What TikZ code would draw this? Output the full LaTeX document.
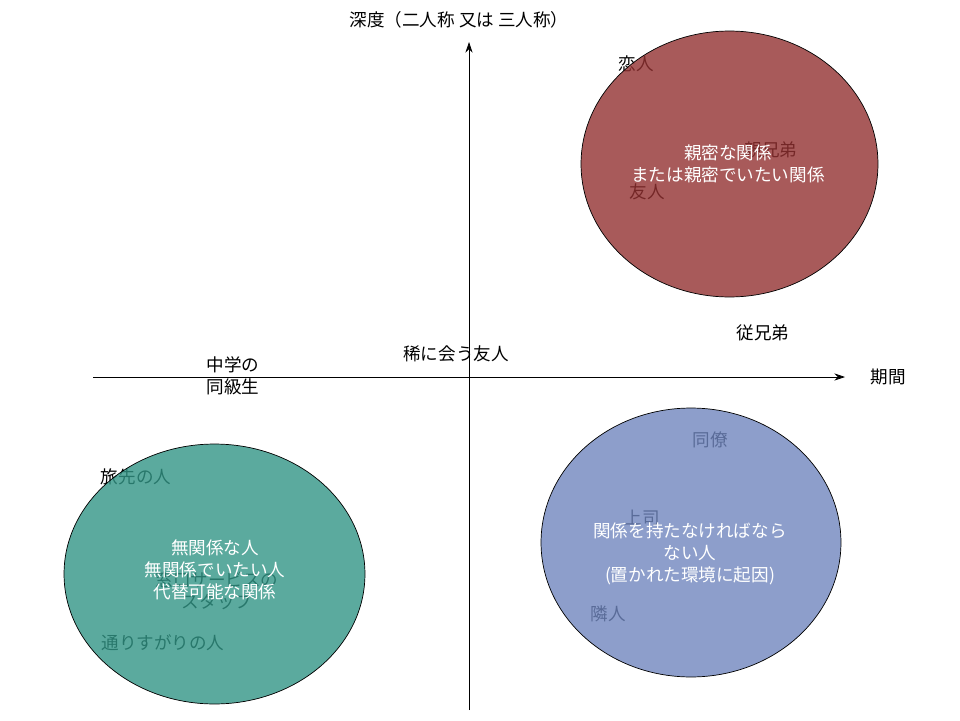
\documentclass[tikz,border=0pt]{standalone}
\usepackage{fontspec}
\setmainfont{Noto Sans CJK JP}
\usetikzlibrary{shapes.geometric,arrows.meta}
\definecolor{closered}{RGB}{146,49,49}
\definecolor{dutyblue}{RGB}{112,134,190}
\definecolor{freegreen}{RGB}{50,149,134}

\begin{document}
\begin{tikzpicture}[x=0.02cm,y=-0.02cm,
axis/.style={-{Stealth[length=6pt,width=4pt]},thin},
bubble/.style={ellipse,draw=black,thin,fill opacity=0.8,inner sep=0pt},
inside/.style={text=white,align=center}]
\tikzstyle{every node}=[font=\fontsize{10pt}{12.6pt}\selectfont]

\useasboundingbox (0,0) rectangle (960,720);

% axes
\coordinate (xlo) at (93,377);
\coordinate (xhi) at (845,377);
\coordinate (ylo) at (469,710);
\coordinate (yhi) at (469,42);
\draw[axis] (xlo) -- (xhi);
\draw[axis] (ylo) -- (yhi);
\node (depth) at (459,20) {深度（二人称 又は 三人称）};
\node (term) at (888,377) {期間};

% free labels
\node[align=left] (junior) at (233,376) {中学の\\同級生};
\node (rare) at (456,354) {稀に会う友人};
\node (cousin) at (763,333) {従兄弟};

% labels under the bubbles
\node (lover) at (636,64) {恋人};
\node (family) at (771,150) {親兄弟};
\node (friend) at (647,192) {友人};
\node (coworker) at (710,440) {同僚};
\node (boss) at (642,518) {上司};
\node (neighbour) at (608,614) {隣人};
\node (traveller) at (136,477) {旅先の人};
\node[align=center] (staff) at (217,591) {窓口サービスの\\スタッフ};
\node (passerby) at (163,643) {通りすがりの人};

% bubbles
\node[bubble,fill=closered,minimum width=5.94cm,minimum height=5.32cm] (close) at (729.5,164) {};
\node[bubble,fill=dutyblue,minimum width=6cm,minimum height=5.38cm] (duty) at (691,542.5) {};
\node[bubble,fill=freegreen,minimum width=6.02cm,minimum height=5.2cm] (free) at (214.5,574) {};

\node[inside] (closetext) at (728,164) {親密な関係\\または親密でいたい関係};
\node[inside] (dutytext) at (690,554) {関係を持たなければなら\\ない人\\(置かれた環境に起因)};
\node[inside] (freetext) at (215,570) {無関係な人\\無関係でいたい人\\代替可能な関係};
\end{tikzpicture}
\end{document}
